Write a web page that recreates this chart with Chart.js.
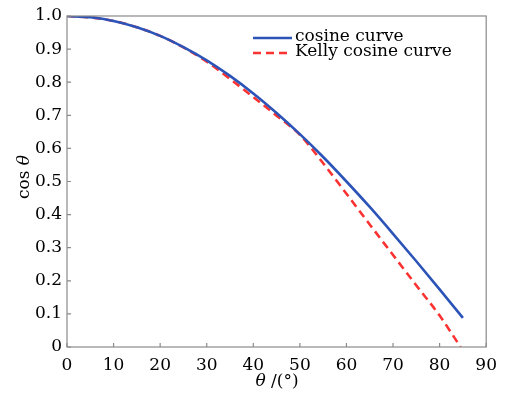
<!DOCTYPE html>
<html>
<head>
<meta charset="utf-8">
<script src="https://cdn.jsdelivr.net/npm/chart.js@4.4.0/dist/chart.umd.min.js"></script>
<style>
  html, body { margin: 0; padding: 0; background: #fff; }
  #wrap { width: 505px; height: 394px; }
</style>
</head>
<body>
<div id="wrap"><canvas id="graph" width="505" height="394"></canvas></div>
<script>
// values
const cosAngles = [0, 5, 10, 15, 20, 25, 30, 35, 40, 45, 50, 55, 60, 65, 70, 75, 80, 85];
const cosValues = [1.0, 0.996, 0.985, 0.966, 0.94, 0.906, 0.866, 0.819, 0.766, 0.707, 0.643, 0.574, 0.5, 0.423, 0.342, 0.259, 0.174, 0.088];

const kellyAngles = [0, 5, 10, 15, 20, 25, 30, 35, 40, 45, 50, 55, 60, 65, 70, 75, 80, 84.5];
const kellyValues = [1.0, 0.996, 0.985, 0.966, 0.94, 0.905, 0.862, 0.81, 0.755, 0.699, 0.641, 0.555, 0.463, 0.37, 0.278, 0.186, 0.095, 0.0];

const seriesNames = ["cosine curve", "Kelly cosine curve"];
const xTitle = ["θ", " /(°)"];
const yTitle = ["cos ", "θ"];

const FONT = "DejaVu Serif";
const TEXT = "#000";
const FRAME = "#8a8a8a";

function toPoints(xs, ys) {
    return xs.map((x, i) => ({x: x, y: ys[i]}));
}

// frame, inward ticks, legend and axis titles
const decorPlugin = {
    id: "decor",
    afterDatasetsDraw(chart) {
        const ctx = chart.ctx;
        const a = chart.chartArea;
        const sx = chart.scales.x;
        const sy = chart.scales.y;
        ctx.save();
        ctx.strokeStyle = FRAME;
        ctx.lineWidth = 1.2;
        ctx.strokeRect(a.left, a.top, a.right - a.left, a.bottom - a.top);
        ctx.beginPath();
        sx.ticks.forEach(t => {
            const px = sx.getPixelForValue(t.value);
            ctx.moveTo(px, a.bottom);
            ctx.lineTo(px, a.bottom - 4);
        });
        sy.ticks.forEach(t => {
            const py = sy.getPixelForValue(t.value);
            ctx.moveTo(a.left, py);
            ctx.lineTo(a.left + 4, py);
        });
        ctx.stroke();

        // legend
        const lx = 253, ly = 38, row = 15, len = 39;
        chart.data.datasets.forEach((ds, i) => {
            const y = ly + i * row;
            ctx.beginPath();
            ctx.strokeStyle = ds.borderColor;
            ctx.lineWidth = ds.borderWidth;
            ctx.setLineDash(ds.borderDash || []);
            ctx.moveTo(lx, y);
            ctx.lineTo(lx + len, y);
            ctx.stroke();
            ctx.setLineDash([]);
            ctx.fillStyle = TEXT;
            ctx.font = "17px '" + FONT + "'";
            ctx.textBaseline = "middle";
            ctx.textAlign = "left";
            ctx.fillText(ds.label, lx + len + 3, y - 1);
        });

        // x title
        ctx.textBaseline = "middle";
        ctx.font = "italic 17px '" + FONT + "'";
        const w0 = ctx.measureText(xTitle[0]).width;
        ctx.font = "17px '" + FONT + "'";
        const w1 = ctx.measureText(xTitle[1]).width;
        let x0 = 277 - (w0 + w1) / 2;
        ctx.font = "italic 17px '" + FONT + "'";
        ctx.fillText(xTitle[0], x0, 382);
        ctx.font = "17px '" + FONT + "'";
        ctx.fillText(xTitle[1], x0 + w0, 382);

        // y title
        ctx.translate(25, 177);
        ctx.rotate(-Math.PI / 2);
        ctx.font = "17px '" + FONT + "'";
        const v0 = ctx.measureText(yTitle[0]).width;
        ctx.font = "italic 17px '" + FONT + "'";
        const v1 = ctx.measureText(yTitle[1]).width;
        x0 = -(v0 + v1) / 2;
        ctx.font = "17px '" + FONT + "'";
        ctx.fillText(yTitle[0], x0, 0);
        ctx.font = "italic 17px '" + FONT + "'";
        ctx.fillText(yTitle[1], x0 + v0, 0);
        ctx.restore();
    }
};

var chart = new Chart("graph", {
    type: "scatter",
    data: {
        datasets: [{
            label: seriesNames[0],
            data: toPoints(cosAngles, cosValues),
            showLine: true,
            borderColor: "#2c54b8",
            borderWidth: 2.6,
            pointRadius: 0,
            cubicInterpolationMode: "monotone"
        }, {
            label: seriesNames[1],
            data: toPoints(kellyAngles, kellyValues),
            showLine: true,
            borderColor: "#fb3232",
            borderWidth: 2.6,
            borderDash: [8, 5],
            pointRadius: 0,
            cubicInterpolationMode: "monotone"
        }]
    },
    options: {
        responsive: false,
        animation: false,
        layout: {padding: {top: 16, right: 18, left: 0, bottom: 0}},
        plugins: {legend: {display: false}, tooltip: {enabled: false}},
        scales: {
            x: {
                type: "linear",
                min: 0, max: 90,
                grid: {display: false, drawTicks: false},
                border: {display: false},
                ticks: {
                    stepSize: 10,
                    padding: 8,
                    color: TEXT,
                    font: {family: FONT, size: 17},
                    maxRotation: 0
                },
                afterFit(scale) { scale.height = 47; }
            },
            y: {
                min: 0, max: 1,
                grid: {display: false, drawTicks: false},
                border: {display: false},
                ticks: {
                    stepSize: 0.1,
                    padding: 5,
                    color: TEXT,
                    font: {family: FONT, size: 17},
                    callback: v => (v === 0 ? "0" : v.toFixed(1))
                },
                afterFit(scale) { scale.width = 67; }
            }
        }
    },
    plugins: [decorPlugin]
});
</script>
</body>
</html>
